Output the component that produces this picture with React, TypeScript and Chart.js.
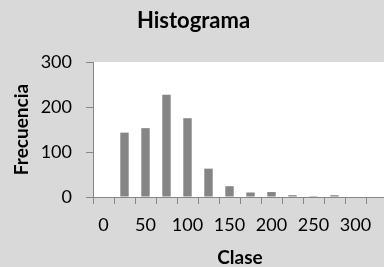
import React, { useEffect, useRef } from "react";
import { Chart, registerables } from "chart.js";

Chart.register(...registerables);

const categories = ["0", "25", "50", "75", "100", "125", "150", "175", "200", "225", "250", "275", "300", "325"];
const frequencies = [0, 143, 153, 227, 175, 63, 24, 10, 11, 4, 2, 4, 0, 0];
const yTicks = [0, 100, 200, 300];

const FONT = "Lato, 'Open Sans', sans-serif";
const AXIS = "#868686";

const plotBg = {
  id: "plotBg",
  beforeDraw(chart: any) {
    const { ctx, chartArea } = chart;
    if (!chartArea) return;
    ctx.save();
    ctx.fillStyle = "#ffffff";
    ctx.fillRect(chartArea.left, chartArea.top, chartArea.right - chartArea.left, chartArea.bottom - chartArea.top);
    ctx.restore();
  },
};

export default function App() {
  const ref = useRef<HTMLCanvasElement | null>(null);
  useEffect(() => {
    if (!ref.current) return;
    const chart = new Chart(ref.current, {
      type: "bar",
      data: {
        labels: categories,
        datasets: [
          {
            data: frequencies,
            backgroundColor: "#858585",
            borderWidth: 0,
            categoryPercentage: 1,
            barPercentage: 0.4,
          },
        ],
      },
      options: {
        responsive: false,
        animation: false,
        devicePixelRatio: 1,
        layout: { padding: { left: 0, right: 3, top: 0, bottom: 0 } },
        plugins: {
          legend: { display: false },
          tooltip: { enabled: false },
          title: {
            display: true,
            text: "Histograma",
            color: "#000",
            font: { family: FONT, size: 22, weight: "bold", lineHeight: 1.2 },
            padding: { top: 8, bottom: 27.6 },
          },
        },
        scales: {
          x: {
            type: "category",
            offset: true,
            grid: { display: true, drawOnChartArea: false, drawTicks: true, tickLength: 7, color: AXIS, offset: true },
            border: { display: true, color: AXIS, width: 1 },
            ticks: {
              autoSkip: false,
              maxRotation: 0,
              color: "#000",
              padding: 10,
              font: { family: FONT, size: 18, lineHeight: 1.2 },
              callback: (_v: any, i: number) => (i % 2 === 0 && i < 13 ? categories[i] : ""),
            },
            title: {
              display: true,
              text: "Clase",
              color: "#000",
              font: { family: FONT, size: 19, weight: "bold", lineHeight: 1.0 },
              padding: { top: 0, bottom: 0 },
            },
            afterFit: (s: any) => {
              s.height = 70;
            },
          },
          y: {
            min: 0,
            max: 300,
            afterBuildTicks: (s: any) => {
              s.ticks = yTicks.map((v) => ({ value: v }));
            },
            grid: { display: true, drawOnChartArea: false, drawTicks: true, tickLength: 7, color: AXIS },
            border: { display: true, color: AXIS, width: 1 },
            ticks: {
              color: "#000",
              padding: 14,
              font: { family: FONT, size: 18, lineHeight: 1.2 },
            },
            title: {
              display: true,
              text: "Frecuencia",
              color: "#000",
              font: { family: FONT, size: 19, weight: "bold", lineHeight: 1.2 },
              padding: { top: 10, bottom: 0 },
            },
            afterFit: (s: any) => {
              s.width = 93;
            },
          },
        },
      },
      plugins: [plotBg],
    });
    return () => chart.destroy();
  }, []);
  return (
    <div
      style={{
        position: "fixed",
        left: 0,
        top: 0,
        width: 384,
        height: 267,
        overflow: "hidden",
        background: "#d9d9d9",
      }}
    >
      <canvas ref={ref} width={390} height={267} style={{ display: "block", width: 390, height: 267 }} />
    </div>
  );
}
